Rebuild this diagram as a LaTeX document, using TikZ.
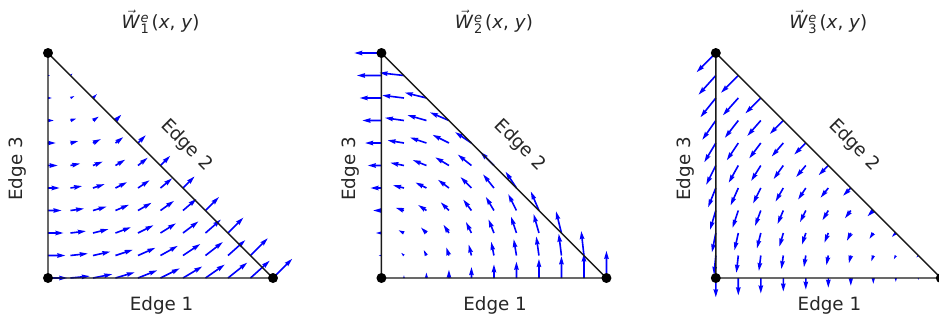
\documentclass[tikz,border=0pt]{standalone}
\usepackage{amsmath}
\usepackage{fontspec}
\setmainfont{DejaVu Sans}
\usetikzlibrary{calc}

\newcommand{\shaftw}{0.0072}
\newcommand{\wtitle}[1]{$\vec{\textit{W}}$\kern0.6pt\rlap{\raisebox{3.4pt}{\fontsize{7.4}{8}\selectfont\itshape e}}\raisebox{-3.2pt}{\fontsize{7.4}{8}\selectfont #1}\kern1.6pt(\textit{x}, \textit{y})}
\tikzset{
  quiv/.style={fill=blue},
  triedge/.style={draw=black!90, line width=0.8pt},
  vert/.style={fill=black},
  lbl/.style={text=black!85, font=\fontsize{10.4}{12}\selectfont, inner sep=0pt}
}

\begin{document}
\begin{tikzpicture}[x=4.5cm, y=4.5cm]
\useasboundingbox (-0.2133,-0.2) rectangle (3.96,1.2356);
\foreach \p/\ox/\ca/\cd/\kk in {1/0/1/0/0.085, 2/1.482/0/0/0.12, 3/2.968/0/-1/0.085} {
\begin{scope}[shift={(\ox,0)}]
\coordinate (A\p) at (0,0);
\coordinate (B\p) at (1,0);
\coordinate (C\p) at (0,1);
\foreach \i in {0,...,10} {
 \foreach \j in {0,...,10} {
  \pgfmathtruncatemacro\sumij{\i+\j}
  \ifnum\sumij<11
   \pgfmathsetmacro\uu{\ca-\j/10}
   \pgfmathsetmacro\vv{\cd+\i/10}
   \pgfmathsetmacro\alen{sqrt(\uu*\uu+\vv*\vv)*\kk/\shaftw}
   \ifdim\alen pt<1pt
    \fill[quiv] (\i/10,\j/10) circle (0.4pt);
   \else
    \pgfmathsetmacro\ang{atan2(\vv,\uu)}
    \ifdim\alen pt<5pt
     \pgfmathsetmacro\shr{\shaftw*\alen/5}
     \fill[quiv, shift={(\i/10,\j/10)}, rotate=\ang, scale=\shr]
       (0,.5) -- (.5,.5) -- (0,1.5) -- (5,0) -- (0,-1.5) -- (.5,-.5) -- (0,-.5) -- cycle;
    \else
     \pgfmathsetmacro\hax{\alen-4.5}
     \pgfmathsetmacro\hbx{\alen-5}
     \fill[quiv, shift={(\i/10,\j/10)}, rotate=\ang, scale=\shaftw]
       (0,.5) -- (\hax,.5) -- (\hbx,1.5) -- (\alen,0) -- (\hbx,-1.5) -- (\hax,-.5) -- (0,-.5) -- cycle;
    \fi
   \fi
  \fi
 }
}
\draw[triedge] (A\p) -- (B\p) -- (C\p) -- cycle;
\foreach \v in {A,B,C}
 \fill[vert] (\v\p) circle (0.1cm);
\node[lbl] (title\p) at (0.5,1.138) {\wtitle{\p}};
\node[lbl] (edgeone\p) at (0.505,-0.124) {Edge 1};
\node[lbl, rotate=-45] (edgetwo\p) at (0.615,0.59) {Edge 2};
\node[lbl, rotate=90] (edgethree\p) at (-0.137,0.485) {Edge 3};
\end{scope}
}
\end{tikzpicture}
\end{document}
